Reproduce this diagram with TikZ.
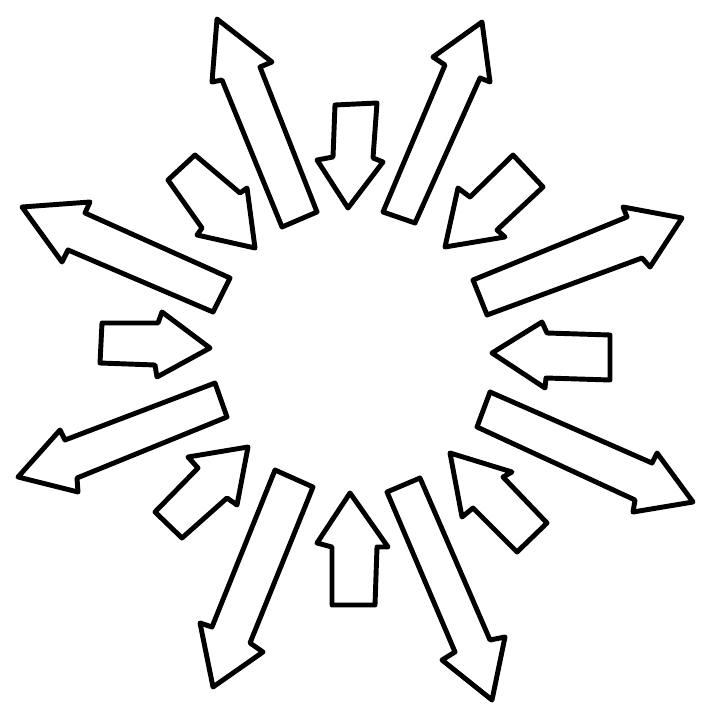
\documentclass[tikz,border=0pt]{standalone}
\usepackage{amsmath}
\usepackage{tikz}

\begin{document}
\begin{tikzpicture}[x=0.025cm,y=-0.025cm,outline/.style={draw=black,line width=3.5pt,line join=round}]
		\useasboundingbox (0,0) rectangle (705,707);
		\draw[outline] (282,227) -- (222,80) -- (212,82) -- (217,19) -- (272,62) -- (260,67) -- (317,212) -- cycle;
		\draw[outline] (383,212) -- (445,65) -- (433,57) -- (482,22) -- (490,82) -- (480,78) -- (415,223) -- cycle;
		\draw[outline] (230,278) -- (85,213) -- (90,202) -- (22,207) -- (62,262) -- (68,250) -- (213,312) -- cycle;
		\draw[outline] (473,280) -- (627,217) -- (623,207) -- (682,218) -- (650,267) -- (642,258) -- (487,315) -- cycle;
		\draw[outline] (215,383) -- (65,440) -- (60,430) -- (18,477) -- (78,492) -- (77,478) -- (227,417) -- cycle;
		\draw[outline] (490,392) -- (652,463) -- (657,453) -- (693,502) -- (633,512) -- (635,500) -- (477,427) -- cycle;
		\draw[outline] (275,470) -- (212,627) -- (200,623) -- (213,687) -- (263,652) -- (250,643) -- (313,487) -- cycle;
		\draw[outline] (420,478) -- (490,640) -- (505,637) -- (492,700) -- (442,660) -- (455,652) -- (387,492) -- cycle;
		
		\draw[outline] (335,105) -- (333,157) -- (317,160) -- (348,208) -- (383,162) -- (373,158) -- (377,103) -- cycle;
		\draw[outline] (102,323) -- (158,323) -- (162,312) -- (210,348) -- (157,377) -- (155,365) -- (100,363) -- cycle;
		\draw[outline] (610,335) -- (547,333) -- (542,322) -- (492,353) -- (545,388) -- (546,378) -- (610,380) -- cycle;
		\draw[outline] (332,605) -- (332,547) -- (317,543) -- (350,493) -- (388,547) -- (377,547) -- (375,605) -- cycle;
		\draw[outline] (195,155) -- (240,193) -- (247,188) -- (255,248) -- (197,235) -- (202,228) -- (168,180) -- cycle;
		\draw[outline] (513,155) -- (470,197) -- (458,188) -- (445,247) -- (505,237) -- (497,230) -- (543,187) -- cycle;
		\draw[outline] (155,512) -- (198,468) -- (188,457) -- (248,447) -- (237,505) -- (227,498) -- (182,538) -- cycle;
		\draw[outline] (547,523) -- (503,477) -- (512,472) -- (450,453) -- (462,517) -- (473,508) -- (517,552) -- cycle;
		
		
		
\end{tikzpicture}
\end{document}
